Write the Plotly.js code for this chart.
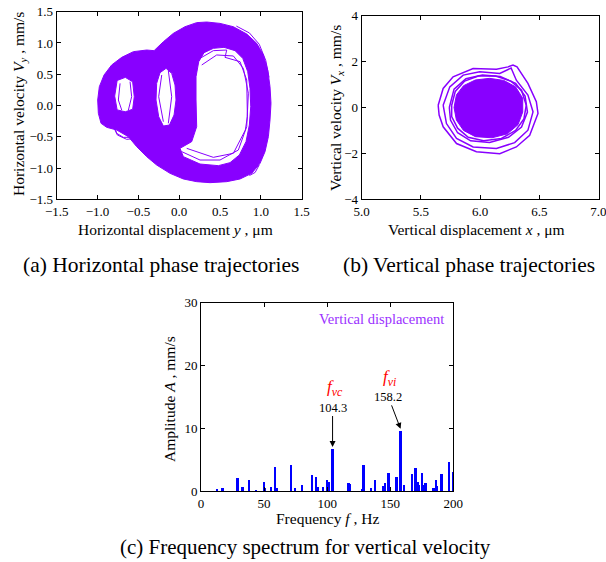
<!DOCTYPE html>
<html>
<head>
<meta charset="utf-8">
<script src="https://cdn.plot.ly/plotly-3.0.1.min.js"></script>
<style>
  html, body { margin: 0; padding: 0; background: #fff; }
  #fig { width: 606px; height: 562px; }
</style>
</head>
<body>
<div id="fig"></div>
<script>
// ---- (a) horizontal phase trajectory: dense band outline, holes and loose strands ----
const hOuterX = [-0.561,-0.398,-0.308,-0.194,-0.071,0.071,0.214,0.337,0.5,0.663,0.827,0.949,1.031,1.084,1.112,1.124,1.112,1.092,1.051,0.99,0.888,0.745,0.582,0.378,0.214,0.051,-0.112,-0.276,-0.398,-0.52,-0.622,-0.765,-0.888,-0.957,-0.99,-0.998,-0.978,-0.92,-0.827,-0.704,-0.561];
const hOuterY = [0.861,0.887,0.877,1.02,1.154,1.26,1.325,1.335,1.313,1.26,1.143,0.994,0.807,0.567,0.301,0.035,-0.232,-0.498,-0.738,-0.925,-1.085,-1.175,-1.218,-1.234,-1.218,-1.175,-1.085,-0.952,-0.818,-0.659,-0.499,-0.392,-0.349,-0.285,-0.125,0.088,0.301,0.488,0.648,0.77,0.861];

const hHoleBigX = [0.206,0.239,0.304,0.418,0.549,0.684,0.778,0.839,0.867,0.876,0.859,0.818,0.737,0.622,0.479,0.255,0.051,0.010,0.153,0.214,0.206,0.206];
const hHoleBigY = [0.461,0.701,0.845,0.914,0.930,0.877,0.754,0.541,0.275,-0.019,-0.312,-0.578,-0.791,-0.914,-0.962,-0.936,-0.818,-0.685,-0.578,-0.338,0.088,0.461];

const hHoleMidX = [-0.161,-0.092,-0.051,-0.039,-0.063,-0.120,-0.194,-0.251,-0.284,-0.276,-0.235,-0.161];
const hHoleMidY = [0.594,0.514,0.328,0.088,-0.152,-0.312,-0.328,-0.179,0.088,0.354,0.525,0.594];

const hHoleLeftX = [-0.76,-0.66,-0.57,-0.55,-0.57,-0.66,-0.76,-0.79,-0.76];
const hHoleLeftY = [0.40,0.45,0.38,0.14,-0.06,-0.10,-0.07,0.15,0.40];

const hStrandX = [0.255,0.418,0.582,0.561,0.745,0.827,0.835,0.810,0.663,0.418,0.092, null,
                  0.276,0.459,0.663,0.786,0.847,0.827,0.724,0.5,0.255,0.031, null,
                  -0.214,-0.251,-0.194, null, -0.133,-0.092,-0.133, null,
                  -0.724,-0.745,-0.704, null, -0.602,-0.582,-0.622, null,
                  -0.786,-0.765,-0.684,-0.561,-0.480, null, -0.806,-0.757,-0.643,-0.520,-0.439, null,
                  0.70,0.86,0.98,1.06,1.10, null, 0.62,0.78,0.90, null, 0.98,0.93,0.86];
const hStrandY = [0.754,0.877,0.887,0.770,0.701,0.408,-0.179,-0.392,-0.765,-0.829,-0.685, null,
                  0.648,0.808,0.792,0.594,0.195,-0.338,-0.712,-0.872,-0.872,-0.738, null,
                  0.488,0.141,-0.259, null, 0.557,0.141,-0.285, null,
                  0.354,0.088,-0.072, null, 0.381,0.141,-0.072, null,
                  -0.365,-0.445,-0.509,-0.509,-0.445, null, -0.338,-0.472,-0.541,-0.525,-0.445, null,
                  1.27,1.16,0.98,0.72,0.45, null, 1.03,0.95,0.83, null, -0.95,-1.07,-1.12];

// ---- (b) vertical phase trajectory: dense core and surrounding loops ----
const vCoreX = [5.78,5.80,5.86,5.96,6.08,6.20,6.30,6.36,6.36,6.32,6.23,6.10,5.96,5.86,5.80,5.78];
const vCoreY = [0.0,0.55,0.95,1.2,1.27,1.18,0.9,0.4,-0.2,-0.75,-1.15,-1.32,-1.27,-1.0,-0.55,0.0];

const vLoopAX = [5.646,5.688,5.772,5.941,6.138,6.236,6.278,6.312,6.404,6.475,6.489,6.419,6.306,6.166,5.969,5.801,5.688,5.654,5.646];
const vLoopAY = [0.10,0.83,1.34,1.70,1.67,1.77,1.85,1.77,1.05,0.25,-0.26,-1.21,-1.72,-2.01,-1.93,-1.57,-0.84,-0.33,0.10];

const vLoopBX = [5.688,5.744,5.857,5.997,6.166,6.230,6.262,6.306,6.404,6.447,6.404,6.292,6.138,5.941,5.801,5.716,5.688];
const vLoopBY = [0.10,0.90,1.41,1.56,1.48,1.62,1.72,1.19,0.54,-0.19,-0.99,-1.53,-1.79,-1.72,-1.35,-0.70,0.10];

const vLoopCX = [5.74,5.78,5.88,6.02,6.17,6.30,6.38,6.40,6.35,6.24,6.08,5.92,5.81,5.75,5.74];
const vLoopCY = [0.0,0.8,1.25,1.42,1.35,1.05,0.5,-0.2,-0.85,-1.3,-1.52,-1.45,-1.1,-0.55,0.0];

const vLoopDX = [5.76,5.79,5.87,5.99,6.13,6.26,6.35,6.39,6.37,6.30,6.18,6.03,5.90,5.81,5.76,5.76];
const vLoopDY = [0.1,0.7,1.15,1.38,1.37,1.15,0.75,0.1,-0.5,-1.0,-1.35,-1.45,-1.3,-0.9,-0.4,0.1];

// ---- (c) frequency spectrum of the vertical velocity ----
const specFreq = [12.4,17,29,32.8,38.3,43.6,49.7,50.7,55.5,58.4,60,71.1,74.5,80,87.7,91.1,92.4,96.7,99.9,101,104.3,117,118,127.6,128.9,134.7,137.9,144.5,145.8,148.7,155,158.2,161.2,167.2,170.1,171.7,173,174.9,176.2,178,184.4,186.3,187.3,190.7,196.3,199.5];
const specAmp  = [0.3,0.5,2.1,0.6,1.7,0.2,1.5,0.5,0.6,3.8,0.4,4.1,0.5,0.9,2.6,2.3,0.6,0.6,1.8,1.5,6.7,1.2,1.1,0.3,4.1,0.5,1.8,0.8,1.3,2.9,2.2,9.6,0.9,2.7,3.6,1.5,1.0,2.9,1.0,1.3,0.4,1.7,0.8,2.7,4.7,3.0];

const peakVc = {f: 104.3, a: 6.7};
const peakVi = {f: 158.2, a: 9.6};

const PURPLE = '#8800ff';
const FONT = 'Liberation Serif';
const W = 606, H = 562;
const px = x => x / W;
const py = y => 1 - y / H;

function line(x, y, xa, ya, extra) {
  return Object.assign({x, y, xaxis: xa, yaxis: ya, mode: 'lines', type: 'scatter',
    hoverinfo: 'skip', showlegend: false, line: {color: PURPLE, width: 1}}, extra || {});
}

const traces = [
  line(hOuterX, hOuterY, 'x', 'y', {fill: 'toself', fillcolor: PURPLE}),
  line(hHoleBigX, hHoleBigY, 'x', 'y', {fill: 'toself', fillcolor: '#ffffff'}),
  line(hHoleMidX, hHoleMidY, 'x', 'y', {fill: 'toself', fillcolor: '#ffffff'}),
  line(hHoleLeftX, hHoleLeftY, 'x', 'y', {fill: 'toself', fillcolor: '#ffffff'}),
  line(hStrandX, hStrandY, 'x', 'y', {connectgaps: false}),

  line(vCoreX, vCoreY, 'x2', 'y2', {fill: 'toself', fillcolor: PURPLE}),
  line(vLoopAX, vLoopAY, 'x2', 'y2', {line: {color: PURPLE, width: 1.5}}),
  line(vLoopBX, vLoopBY, 'x2', 'y2', {line: {color: PURPLE, width: 1.5}}),
  line(vLoopCX, vLoopCY, 'x2', 'y2', {line: {color: PURPLE, width: 1.5}}),
  line(vLoopDX, vLoopDY, 'x2', 'y2', {line: {color: PURPLE, width: 1.5}}),

  {type: 'bar', x: specFreq, y: specAmp, xaxis: 'x3', yaxis: 'y3', width: 1.8,
   marker: {color: '#0000ff', line: {width: 0}}, hoverinfo: 'skip', showlegend: false}
];

function axis(range, dtick, domain, anchor, fmt) {
  return {range, dtick, domain, anchor, tickformat: fmt, showline: true, linecolor: '#000', linewidth: 1,
    mirror: 'ticks', ticks: 'inside', ticklen: 4, tickcolor: '#000', zeroline: false, showgrid: false,
    ticklabeloverflow: 'allow', tickfont: {size: 13, color: '#000', family: FONT}, fixedrange: true};
}

const ann = (text, x, y, size, extra) => Object.assign({text, x: px(x), y: py(y), xref: 'paper', yref: 'paper',
  showarrow: false, xanchor: 'center', yanchor: 'middle', font: {family: FONT, size, color: '#000'}}, extra || {});

const layout = {
  width: W, height: H,
  margin: {l: 0, r: 0, t: 0, b: 0},
  paper_bgcolor: '#fff', plot_bgcolor: '#fff',
  font: {family: FONT, color: '#000', size: 13},
  showlegend: false,
  bargap: 0,
  xaxis:  axis([-1.5, 1.5], 0.5, [px(56.7), px(301.7)], 'y', '.1f'),
  yaxis:  axis([-1.5, 1.5], 0.5, [py(199.3), py(11.7)], 'x', '.1f'),
  xaxis2: axis([5, 7.0001], 0.5, [px(361.7), px(598.5)], 'y2', '.1f'),
  yaxis2: axis([-4, 4], 2, [py(199.3), py(15.7)], 'x2', 'd'),
  xaxis3: axis([0, 200.001], 50, [px(201), px(453.3)], 'y3', 'd'),
  yaxis3: axis([0, 30], 10, [py(491), py(302.7)], 'x3', 'd'),
  annotations: [
    ann('Horizontal displacement <i>y</i> , μm', 175, 229, 15.5),
    ann('Horizontal velocity <i>V</i><sub><i>y</i></sub> , mm/s', 20, 104, 15.5, {textangle: -90}),
    ann('Vertical displacement <i>x</i> , μm', 476, 229, 15.5),
    ann('Vertical velocity <i>V</i><sub><i>x</i></sub> , mm/s', 336, 108, 15.5, {textangle: -90}),
    ann('Frequency <i>f</i> , Hz', 327.5, 518, 15.5),
    ann('Amplitude <i>A</i> , mm/s', 169, 399, 15.5, {textangle: -90}),
    ann('(a) Horizontal phase trajectories', 161, 265, 21.5),
    ann('(b) Vertical phase trajectories', 469, 265, 21.5),
    ann('(c) Frequency spectrum for vertical velocity', 305, 547, 21),
    {text: 'Vertical displacement', x: 143.4, y: 27.4, xref: 'x3', yref: 'y3', showarrow: false,
     xanchor: 'center', yanchor: 'middle', font: {family: FONT, size: 14.5, color: '#9b30ff'}},
    {text: '<i>f</i><sub><i>vc</i></sub>', x: 106.6, y: 16.4, xref: 'x3', yref: 'y3', showarrow: false,
     xanchor: 'center', yanchor: 'middle', font: {family: FONT, size: 17, color: '#ff0000'}},
    {text: '<i>f</i><sub><i>vi</i></sub>', x: 149.2, y: 18.0, xref: 'x3', yref: 'y3', showarrow: false,
     xanchor: 'center', yanchor: 'middle', font: {family: FONT, size: 17, color: '#ff0000'}},
    {text: String(peakVc.f), x: peakVc.f, y: peakVc.a + 0.3, xref: 'x3', yref: 'y3',
     ax: peakVc.f, ay: 13.3, axref: 'x3', ayref: 'y3', showarrow: true, arrowhead: 2, arrowsize: 1.2,
     arrowwidth: 1, arrowcolor: '#000', font: {family: FONT, size: 12.5, color: '#000'}},
    {text: String(peakVi.f), x: peakVi.f, y: peakVi.a + 0.3, xref: 'x3', yref: 'y3',
     ax: 148.5, ay: 15.0, axref: 'x3', ayref: 'y3', showarrow: true, arrowhead: 2, arrowsize: 1.2,
     arrowwidth: 1, arrowcolor: '#000', font: {family: FONT, size: 12.5, color: '#000'}}
  ]
};

Plotly.newPlot('fig', traces, layout, {staticPlot: true, displayModeBar: false});
</script>
</body>
</html>
